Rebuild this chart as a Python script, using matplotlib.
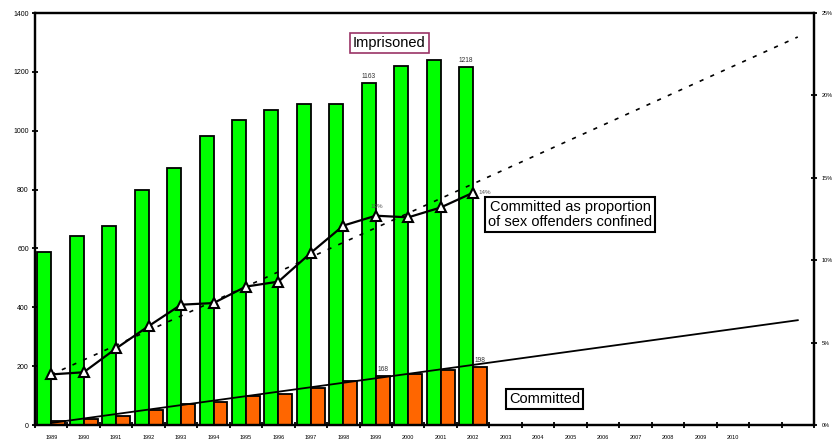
import matplotlib.pyplot as plt
import matplotlib.ticker as mticker
import numpy as np

plt.rcParams['font.family'] = ['Liberation Sans', 'DejaVu Sans']

# Data
years = list(range(1989, 2013))          # 24 categories, labels stop at 2010
data_years = list(range(1989, 2003))
imprisoned = [587, 643, 675, 800, 873, 982, 1035, 1070, 1090, 1090, 1163, 1220, 1240, 1218]
committed = [12, 22, 30, 50, 72, 79, 100, 107, 127, 151, 168, 175, 187, 198]
proportion = [0.0307, 0.032, 0.0465, 0.060, 0.073, 0.074, 0.084, 0.087,
              0.1045, 0.121, 0.127, 0.126, 0.132, 0.141]
tick_labels = [str(y) for y in range(1989, 2011)] + ['', '']

x_all = np.arange(len(years))
x_data = np.arange(len(data_years))

# linear trendlines (Excel style), extended to 2012
c_fit = np.polyfit(x_data, committed, 1)
p_fit = np.polyfit(x_data, proportion, 1)
x_trend = np.array([0, len(years) - 1])

fig = plt.figure(figsize=(8.32, 4.42), dpi=100)
ax = fig.add_axes([35 / 832, 17 / 442, 779 / 832, 412 / 442])

bw = 0.43
ax.bar(x_data - bw, imprisoned, width=bw, align='edge', color='#00ff00',
       edgecolor='black', linewidth=1.3, zorder=2)
ax.bar(x_data, committed, width=bw, align='edge', color='#ff6600',
       edgecolor='black', linewidth=1.3, zorder=2)
ax.plot(x_trend, np.polyval(c_fit, x_trend), color='black', lw=1.3, zorder=3)

# value labels
for i in [10, 13]:
    ax.annotate(str(imprisoned[i]), (x_data[i] - bw / 2, imprisoned[i]),
                xytext=(0, 2), textcoords='offset points', ha='center',
                va='bottom', fontsize=4.8, color='#333333')
    ax.annotate(str(committed[i]), (x_data[i] + bw / 2, committed[i]),
                xytext=(0, 2), textcoords='offset points', ha='center',
                va='bottom', fontsize=4.8, color='#333333')

ax.set_xlim(-0.5, len(years) - 0.5)
ax.set_ylim(0, 1400)
ax.set_yticks(range(0, 1401, 200))
ax.set_xticks(x_all)
ax.set_xticklabels(tick_labels, fontsize=4)
ax.set_xticks(np.arange(-0.5, len(years), 1), minor=True)
ax.tick_params(axis='x', which='major', length=0, pad=7.5)
ax.tick_params(axis='x', which='minor', direction='inout', length=5, width=1.3)
ax.tick_params(axis='y', direction='inout', length=5, width=1.3, labelsize=5, pad=2)
for s in ax.spines.values():
    s.set_linewidth(1.6)

# secondary axis: proportion
ax2 = ax.twinx()
ax2.set_ylim(0, 0.25)
ax2.set_yticks(np.arange(0, 0.251, 0.05))
ax2.yaxis.set_major_formatter(mticker.PercentFormatter(1.0, decimals=0))
ax2.tick_params(axis='y', direction='inout', length=5, width=1.3, labelsize=4, pad=3)
for s in ax2.spines.values():
    s.set_linewidth(1.6)

ax2.plot(x_trend, np.polyval(p_fit, x_trend), color='black', lw=1.2,
         dashes=(2.5, 4.5), zorder=3)
ax2.plot(x_data, proportion, color='black', lw=1.6, marker='^', markersize=7,
         markerfacecolor='white', markeredgecolor='black', markeredgewidth=1.5,
         zorder=4)
ax2.annotate('13%', (x_data[10], proportion[10]), xytext=(1, 5),
             textcoords='offset points', ha='center', va='bottom',
             fontsize=4.5, color='#555555')
ax2.annotate('14%', (x_data[13], proportion[13]), xytext=(4, 0),
             textcoords='offset points', ha='left', va='center',
             fontsize=4.5, color='#555555')

# text boxes
ax.text(0.455, 0.928, 'Imprisoned', transform=ax.transAxes, ha='center',
        va='center', fontsize=10.5, zorder=6,
        bbox=dict(boxstyle='square,pad=0.2', fc='white', ec='#993366', lw=1.2))
ax2.text(0.687, 0.511, 'Committed as proportion\nof sex offenders confined',
         transform=ax.transAxes, ha='center', va='center',
         fontsize=10.5, linespacing=1.05, zorder=6,
         bbox=dict(boxstyle='square,pad=0.2', fc='white', ec='black', lw=1.5))
ax2.text(0.654, 0.064, 'Committed', transform=ax.transAxes, ha='center',
         va='center', fontsize=10.5, zorder=6,
         bbox=dict(boxstyle='square,pad=0.2', fc='white', ec='black', lw=1.5))

fig.savefig('out.png', dpi=100)
